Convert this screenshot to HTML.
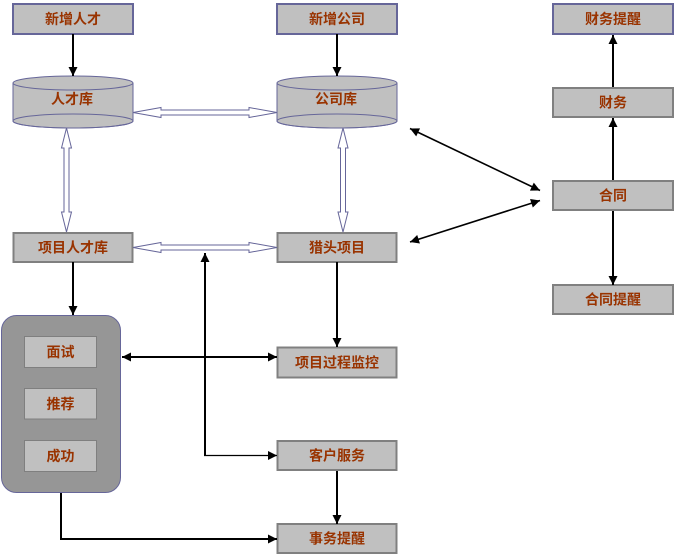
<!DOCTYPE html>
<html><head><meta charset="utf-8"><style>
html,body{margin:0;padding:0;background:#fff;}
svg{display:block;}
text{font-family:"Liberation Sans","Noto Sans CJK SC","WenQuanYi Zen Hei",sans-serif;font-weight:bold;font-size:14px;fill:#993300;text-anchor:middle;dominant-baseline:central;}
</style></head><body>
<svg width="676" height="557" viewBox="0 0 676 557" xmlns="http://www.w3.org/2000/svg">
<defs>
<marker id="a" viewBox="0 0 10 10" refX="10" refY="5" markerWidth="10" markerHeight="9" orient="auto-start-reverse" markerUnits="userSpaceOnUse">
<path d="M0,0 L10,5 L0,10 z" fill="#000"/>
</marker>
</defs>

<!-- group rounded rect -->
<rect x="1.5" y="315.5" width="119" height="177" rx="15" ry="15" fill="#969696" stroke="#666699" stroke-width="1"/>
<rect x="24.5" y="336.5" width="72" height="31" fill="#c0c0c0" stroke="#7f7f7f" stroke-width="1"/>
<rect x="24.5" y="388.5" width="72" height="30.5" fill="#c0c0c0" stroke="#7f7f7f" stroke-width="1"/>
<rect x="24.5" y="440.5" width="72" height="31" fill="#c0c0c0" stroke="#7f7f7f" stroke-width="1"/>
<text x="60.5" y="352">面试</text>
<text x="60.5" y="404">推荐</text>
<text x="60.5" y="456">成功</text>

<!-- top boxes (blue border) -->
<rect x="13" y="4" width="120" height="30" fill="#c0c0c0" stroke="#666699" stroke-width="2"/>
<text x="73" y="19">新增人才</text>
<rect x="277" y="4" width="120" height="30" fill="#c0c0c0" stroke="#666699" stroke-width="2"/>
<text x="337" y="19">新增公司</text>
<rect x="553" y="4" width="120" height="30" fill="#c0c0c0" stroke="#666699" stroke-width="2"/>
<text x="613" y="19">财务提醒</text>

<!-- gray boxes -->
<g fill="#c0c0c0" stroke="#808080" stroke-width="2">
<rect x="553" y="88" width="120" height="29"/>
<rect x="553" y="181" width="120" height="29"/>
<rect x="553" y="285" width="120" height="29"/>
<rect x="13.5" y="233" width="119" height="29"/>
<rect x="277.5" y="233" width="119" height="29"/>
<rect x="277.5" y="347.5" width="119" height="30"/>
<rect x="277.5" y="441" width="119" height="29"/>
<rect x="277.5" y="524" width="119" height="29"/>
</g>
<text x="613" y="102.5">财务</text>
<text x="613" y="195.5">合同</text>
<text x="613" y="299.5">合同提醒</text>
<text x="73" y="247.5">项目人才库</text>
<text x="337" y="247.5">猎头项目</text>
<text x="337" y="362.5">项目过程监控</text>
<text x="337" y="455.5">客户服务</text>
<text x="337" y="538.5">事务提醒</text>

<!-- cylinders -->
<g fill="#c0c0c0" stroke="#666699" stroke-width="1">
<path d="M13,83 L13,121 A60,7 0 0 0 133,121 L133,83"/>
<ellipse cx="73" cy="83" rx="60" ry="7"/>
<ellipse cx="73" cy="121" rx="60" ry="7" fill="none"/>
<path d="M277,83 L277,121 A60,7 0 0 0 397,121 L397,83"/>
<ellipse cx="337" cy="83" rx="60" ry="7"/>
<ellipse cx="337" cy="121" rx="60" ry="7" fill="none"/>
</g>
<text x="72" y="99">人才库</text>
<text x="336" y="99">公司库</text>

<!-- hollow arrows -->
<g fill="#fff" stroke="#666699" stroke-width="1">
<polygon points="133,112.5 161,107.5 161,110 249,110 249,107.5 277,112.5 249,117.5 249,115 161,115 161,117.5"/>
<polygon points="133,247.5 161,242.5 161,245 249,245 249,242.5 277,247.5 249,252.5 249,250 161,250 161,252.5"/>
<polygon points="66.5,128 71.5,148 69,148 69,212 71.5,212 66.5,232 61.5,212 64,212 64,148 61.5,148"/>
<polygon points="343,128 348,148 345.5,148 345.5,212 348,212 343,232 338,212 340.5,212 340.5,148 338,148"/>
</g>

<!-- black arrows -->
<g stroke="#000" stroke-width="2" fill="none">
<line x1="73" y1="34" x2="73" y2="76" marker-end="url(#a)"/>
<line x1="337" y1="34" x2="337" y2="76" marker-end="url(#a)"/>
<line x1="73" y1="262" x2="73" y2="315" marker-end="url(#a)"/>
<line x1="337" y1="262" x2="337" y2="347" marker-end="url(#a)"/>
<line x1="337" y1="471" x2="337" y2="524" marker-end="url(#a)"/>
<line x1="613" y1="180" x2="613" y2="118" marker-end="url(#a)"/>
<line x1="613" y1="87" x2="613" y2="35" marker-end="url(#a)"/>
<line x1="613" y1="211" x2="613" y2="285" marker-end="url(#a)"/>
<line x1="122" y1="357" x2="277" y2="357" marker-start="url(#a)" marker-end="url(#a)"/>
<line x1="205" y1="455" x2="205" y2="253" marker-end="url(#a)"/>
<polyline points="61,493 61,539 277,539" marker-end="url(#a)"/>
<line x1="410" y1="128.5" x2="540" y2="190.5" stroke-width="1.6" marker-start="url(#a)" marker-end="url(#a)"/>
<line x1="540" y1="200.5" x2="410" y2="242" stroke-width="1.6" marker-start="url(#a)" marker-end="url(#a)"/>
</g>
<line x1="204" y1="455.5" x2="277" y2="455.5" stroke="#000" stroke-width="1.2" marker-end="url(#a)"/>
</svg>
</body></html>
